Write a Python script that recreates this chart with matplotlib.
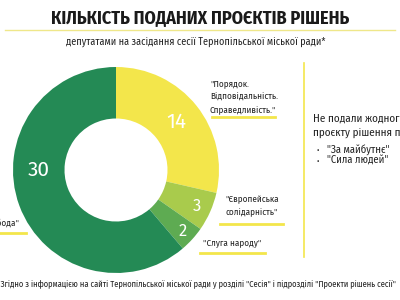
import matplotlib
matplotlib.use('Agg')
import matplotlib.pyplot as plt
import numpy as np

# data
parties = ['"Порядок.\nВідповідальність.\nСправедливість."', '"Європейська\nсолідарність"',
           '"Слуга народу"', '"Свобода"']
projects = [14, 3, 2, 30]
colors = ['#F3E64B', '#A9CB4C', '#5EAB52', '#248A55']
no_projects = ['"За майбутнє"', '"Сила людей"']

title = 'КІЛЬКІСТЬ ПОДАНИХ ПРОЄКТІВ РІШЕНЬ'
subtitle = 'депутатами на засідання сесії Тернопільської міської ради*'
note = ('*Згідно з інформацією на сайті Тернопільської міської ради у розділі "Сесія" '
        'і підрозділі "Проекти рішень сесії"')

fam = ['Fira Sans Condensed', 'DejaVu Sans']
plt.rcParams['font.family'] = fam

fig = plt.figure(figsize=(4, 3), dpi=100)
fig.patch.set_facecolor('white')

# overlay axes in pixel coords
bg = fig.add_axes([0, 0, 1, 1])
bg.set_xlim(0, 400)
bg.set_ylim(300, 0)
bg.axis('off')

# donut
cx, cy, r = 116, 170, 103
pax = fig.add_axes([(cx - r) / 400, (300 - cy - r) / 300, 2 * r / 400, 2 * r / 300])
total = sum(projects)
wedges, texts, autotexts = pax.pie(projects, colors=colors, startangle=90, counterclock=False,
                                   radius=1, wedgeprops=dict(width=0.5, linewidth=0),
                                   autopct=lambda p: f'{round(p * total / 100)}',
                                   pctdistance=0.75)
pax.set_xlim(-1, 1)
pax.set_ylim(-1, 1)
pax.set_aspect('auto')
dists = [0.75, 0.86, 0.88, 0.75]
sizes = [15, 12, 12, 15]
for i, t in enumerate(autotexts):
    ang = np.deg2rad((wedges[i].theta1 + wedges[i].theta2) / 2)
    if i == 3:
        ang = np.pi
    t.set_position((dists[i] * np.cos(ang), dists[i] * np.sin(ang)))
    t.set_color('white')
    t.set_fontsize(sizes[i])
    t.set_fontfamily(['Fira Sans', 'DejaVu Sans'])

# title
bg.text(200, 18, title, ha='center', va='center', fontsize=13, fontweight='bold', color='#1a1a1a')
bg.plot([5, 395], [30, 30], color='#EFE78A', lw=1)
bg.text(196, 42, subtitle, ha='center', va='center', fontsize=7.3, color='#222222')

# party labels
lab = dict(fontsize=6.5, color='#222222', va='center', linespacing=1.6)
bg.text(210, 97, parties[0], ha='left', **lab)
bg.plot([212, 275], [117, 117], color='#F3E64B', lw=2)
bg.text(252, 206, parties[1], ha='center', multialignment='center', **lab)
bg.plot([220, 283], [224, 224], color='#F3E64B', lw=2)
bg.text(232, 243, parties[2], ha='center', **lab)
bg.plot([200, 265], [253, 253], color='#F3E64B', lw=2)
bg.text(19, 223, parties[3], ha='right', **lab)
bg.plot([0, 26], [233, 233], color='#F3E64B', lw=2)

# right panel
bg.plot([304, 304], [63, 257], color='#F3E64B', lw=1.2)
bg.text(313, 126, 'Не подали жодного\nпроєкту рішення партії:', ha='left', va='center',
        fontsize=8, color='#222222', linespacing=1.5)
for i, p in enumerate(no_projects):
    y = 150 + i * 11
    bg.text(318, y, '•', ha='center', va='center', fontsize=6, color='#222222')
    bg.text(327, y, p, ha='left', va='center', fontsize=7.6, color='#222222')

# footnote
bg.text(396, 284, note, ha='right', va='center', fontsize=6.1, color='#222222')

fig.savefig('out.png', dpi=100, facecolor='white')
